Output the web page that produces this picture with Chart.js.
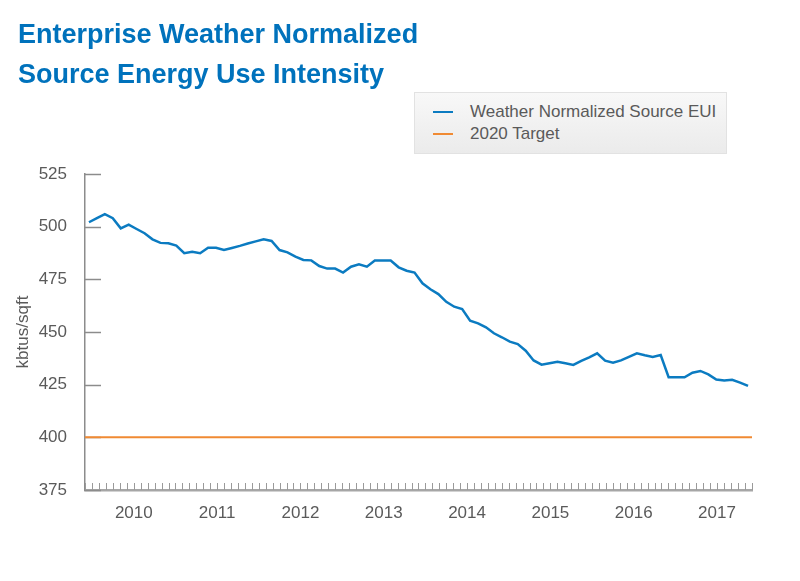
<!DOCTYPE html>
<html>
<head>
<meta charset="utf-8">
<script src="https://cdn.jsdelivr.net/npm/chart.js@4.4.1/dist/chart.umd.min.js"></script>
<style>
  body { margin: 0; width: 800px; height: 581px; background: #fff; position: relative; overflow: hidden; font-family: "Liberation Sans", Arial, sans-serif; }
  #title { position: absolute; left: 18px; top: 14px; font-size: 27px; line-height: 40px; font-weight: bold; color: #0072bc; z-index: 2; }
  #legend { position: absolute; left: 414px; top: 92px; width: 313px; height: 62px; box-sizing: border-box; padding-top: 8px; border: 1px solid #e2e2e2; background: linear-gradient(#f8f8f8, #ebebeb); z-index: 2; }
  .item { height: 22px; line-height: 22px; font-size: 17px; color: #5a5a5a; position: relative; padding-left: 55px; }
  .swatch { position: absolute; left: 18px; top: 10px; width: 20px; height: 2px; }
  canvas { position: absolute; left: 0; top: 0; }
</style>
</head>
<body>
<div id="title">Enterprise Weather Normalized<br>Source Energy Use Intensity</div>
<div id="legend"></div>
<canvas id="chart" width="800" height="581"></canvas>
<script>
// Weather normalized source EUI (kbtus/sqft), one value per reporting period
const eui = [
  502.1, 504.0, 505.9, 504.0, 499.2, 501.0, 498.9, 496.9, 494.0, 492.3,
  492.1, 491.0, 487.4, 488.1, 487.4, 490.0, 490.0, 488.9, 489.9, 490.9,
  492.0, 493.0, 494.0, 493.2, 488.9, 487.8, 485.8, 484.2, 484.0, 481.3,
  480.1, 480.1, 478.2, 481.0, 482.1, 481.0, 483.9, 483.9, 483.9, 480.7,
  479.1, 478.2, 473.1, 470.3, 468.0, 464.3, 462.0, 460.9, 455.4, 454.1,
  452.2, 449.4, 447.5, 445.4, 444.3, 441.1, 436.5, 434.5, 435.2, 435.9,
  435.2, 434.4, 436.3, 438.0, 439.9, 436.4, 435.4, 436.5, 438.2, 439.9,
  439.0, 438.2, 439.1, 428.5, 428.5, 428.5, 430.7, 431.5, 429.9, 427.4,
  427.0, 427.3, 426.0, 424.4
];
const periods = eui.map((v, i) => String(i + 1));

// 2020 target
const target = 400;

// Year labels on the date axis (axis measured in months since Jan 2009)
const yearLabels = ['2010', '2011', '2012', '2013', '2014', '2015', '2016', '2017'];
const axisStart = 4.97;
const axisEnd = 101.04;

const seriesNames = ['Weather Normalized Source EUI', '2020 Target'];
const seriesColors = ['#0b7bc1', '#f08a33'];

const textColor = '#5a5a5a';
const tickFont = { family: 'Liberation Sans', size: 17 };

// legend box
const legendEl = document.getElementById('legend');
seriesNames.forEach((name, i) => {
  legendEl.insertAdjacentHTML('beforeend',
    `<div class="item"><span class="swatch" style="background:${seriesColors[i]}"></span>${name}</div>`);
});

// short tick marks drawn inside the plot area
const innerTicks = {
  id: 'innerTicks',
  beforeDatasetsDraw(chart) {
    const ctx = chart.ctx;
    const y = chart.scales.y;
    const yr = chart.scales.yr;
    ctx.save();
    ctx.strokeStyle = '#8c8c8c';
    ctx.lineWidth = 1.5;
    y.ticks.forEach(t => {
      const py = Math.round(y.getPixelForValue(t.value)) + 0.5;
      ctx.beginPath();
      ctx.moveTo(y.right, py);
      ctx.lineTo(y.right + 16, py);
      ctx.stroke();
    });
    ctx.strokeStyle = '#9a9a9a';
    ctx.lineWidth = 1;
    yr.ticks.forEach(t => {
      const px = Math.round(yr.getPixelForValue(t.value)) + 0.5;
      ctx.beginPath();
      ctx.moveTo(px, yr.top);
      ctx.lineTo(px, yr.top - 7);
      ctx.stroke();
    });
    ctx.restore();
  }
};

const ctx = document.getElementById('chart').getContext('2d');
new Chart(ctx, {
  type: 'line',
  data: {
    labels: periods,
    datasets: [{
      label: seriesNames[0],
      data: eui,
      xAxisID: 'x',
      borderColor: seriesColors[0],
      borderWidth: 2.5,
      pointRadius: 0,
      tension: 0
    }, {
      label: seriesNames[1],
      data: [{ x: axisStart, y: target }, { x: axisEnd, y: target }],
      xAxisID: 'yr',
      borderColor: seriesColors[1],
      borderWidth: 2,
      pointRadius: 0
    }]
  },
  options: {
    responsive: false,
    animation: false,
    layout: { padding: { top: 174, right: 48, bottom: 0, left: 0 } },
    plugins: {
      legend: { display: false },
      tooltip: { enabled: false }
    },
    scales: {
      x: { type: 'category', display: false, offset: true },
      yr: {
        type: 'linear',
        position: 'bottom',
        min: axisStart,
        max: axisEnd,
        grid: { display: false },
        border: { color: '#a6a6a6', width: 2.5 },
        afterBuildTicks: scale => {
          const ticks = [];
          for (let m = Math.ceil(axisStart); m <= axisEnd; m++) ticks.push({ value: m });
          scale.ticks = ticks;
        },
        afterFit: scale => { scale.height = 91; },
        ticks: {
          autoSkip: false,
          maxRotation: 0,
          padding: 5,
          color: textColor,
          font: tickFont,
          callback: v => (v % 12 === 0 ? (yearLabels[v / 12 - 1] || '') : '')
        }
      },
      y: {
        min: 375,
        max: 525,
        grid: { display: false },
        border: { color: '#8c8c8c', width: 1.5 },
        afterFit: scale => { scale.width = 85; },
        ticks: { stepSize: 25, padding: 10, color: textColor, font: tickFont },
        title: {
          display: true,
          text: 'kbtus/sqft',
          color: textColor,
          font: { family: 'Liberation Sans', size: 17 },
          padding: { top: 13, bottom: 0 }
        }
      }
    }
  },
  plugins: [innerTicks]
});
</script>
</body>
</html>
